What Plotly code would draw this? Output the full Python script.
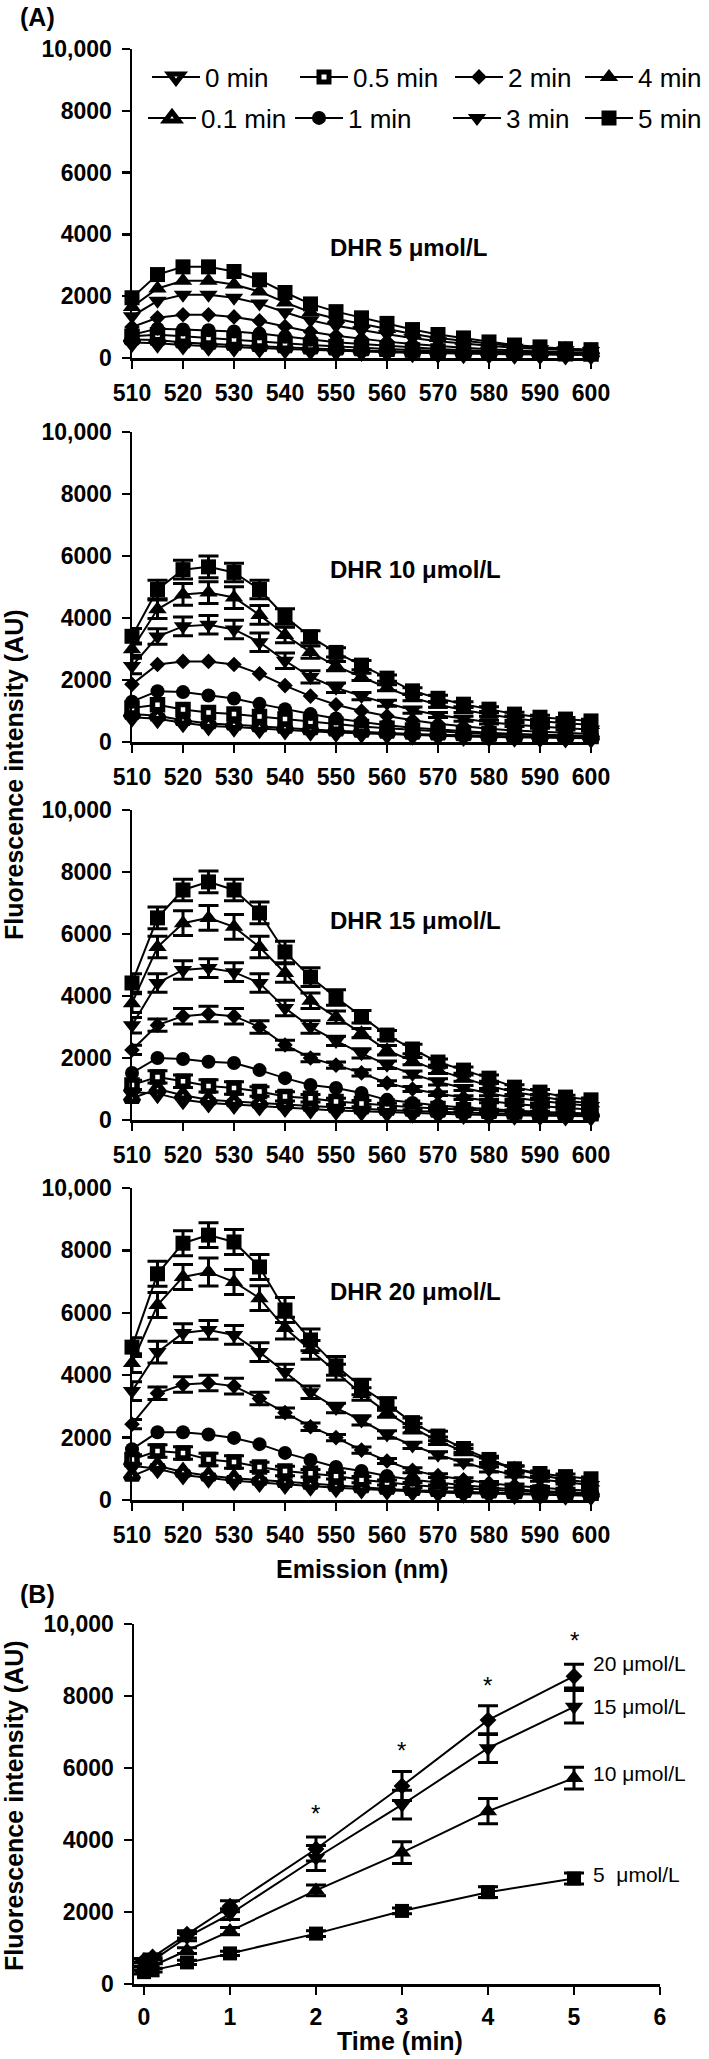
import plotly.graph_objects as go

W, H = 709, 2059
FONT = "Liberation Sans, Arial, Helvetica, sans-serif"

# ------------------------------------------------------------------ data
emission_nm = [510, 515, 520, 525, 530, 535, 540, 545, 550, 555, 560,
               565, 570, 575, 580, 585, 590, 595, 600]
time_labels = ["0 min", "0.1 min", "0.5 min", "1 min", "2 min", "3 min", "4 min", "5 min"]
y_tickvals = [0, 2000, 4000, 6000, 8000, 10000]
y_ticktext = ["0", "2000", "4000", "6000", "8000", "10,000"]
x_tickvals_A = [510, 520, 530, 540, 550, 560, 570, 580, 590, 600]
x_tickvals_B = [0, 1, 2, 3, 4, 5, 6]

# DHR 5 umol/L
dhr5_t0 = [500, 480, 420, 380, 350, 320, 290, 260, 230, 210, 190, 170, 150, 140, 130, 120, 110, 100, 100]
dhr5_t01 = [600, 580, 500, 450, 420, 380, 340, 300, 270, 240, 220, 200, 180, 160, 150, 140, 130, 120, 110]
dhr5_t05 = [700, 750, 700, 650, 600, 550, 480, 420, 370, 330, 290, 260, 230, 200, 180, 160, 150, 140, 130]
dhr5_t1 = [750, 950, 920, 900, 860, 790, 690, 590, 510, 450, 390, 340, 290, 250, 220, 190, 170, 150, 140]
dhr5_t2 = [1000, 1300, 1400, 1400, 1330, 1200, 1020, 850, 720, 620, 530, 450, 380, 330, 280, 240, 210, 190, 170]
dhr5_t3 = [1350, 1850, 2050, 2050, 1950, 1760, 1480, 1220, 1040, 900, 770, 650, 540, 470, 390, 330, 290, 250, 230]
dhr5_t4 = [1650, 2250, 2500, 2500, 2380, 2150, 1800, 1480, 1270, 1100, 940, 780, 650, 560, 460, 380, 330, 290, 260]
dhr5_t5 = [1950, 2700, 2950, 2950, 2800, 2530, 2120, 1750, 1500, 1300, 1120, 920, 760, 650, 520, 420, 360, 300, 270]

# DHR 10 umol/L
dhr10_t0 = [800, 750, 620, 520, 480, 430, 390, 350, 310, 280, 250, 220, 200, 180, 160, 150, 140, 130, 120]
dhr10_t01 = [900, 850, 700, 600, 560, 500, 450, 400, 360, 320, 290, 260, 230, 210, 190, 170, 160, 150, 140]
dhr10_t05 = [1100, 1200, 1050, 950, 900, 820, 740, 650, 570, 500, 440, 390, 340, 300, 270, 240, 210, 190, 180]
dhr10_t1 = [1300, 1640, 1610, 1500, 1400, 1230, 1060, 900, 760, 650, 540, 460, 400, 350, 300, 260, 230, 210, 190]
dhr10_t2 = [1860, 2500, 2600, 2600, 2500, 2200, 1820, 1480, 1200, 1000, 840, 700, 590, 500, 430, 370, 330, 290, 260]
dhr10_t3 = [2450, 3400, 3730, 3780, 3630, 3220, 2620, 2100, 1750, 1480, 1250, 1030, 870, 750, 640, 560, 490, 440, 400]
dhr10_t4 = [2990, 4280, 4760, 4820, 4660, 4100, 3450, 2900, 2450, 2100, 1750, 1430, 1200, 1030, 890, 760, 670, 600, 550]
dhr10_t5 = [3410, 4920, 5560, 5650, 5470, 4920, 4050, 3390, 2890, 2480, 2060, 1650, 1410, 1220, 1060, 900, 800, 740, 680]
dhr10_e3 = [250, 250, 300, 300, 300, 300, 250, 200, 150, 120, 100, 100, 80, 80, 60, 60, 50, 50, 50]
dhr10_e4 = [200, 300, 350, 350, 350, 300, 250, 200, 150, 120, 100, 100, 80, 80, 60, 60, 50, 50, 50]
dhr10_e5 = [250, 300, 300, 350, 300, 300, 250, 200, 150, 150, 100, 100, 100, 80, 80, 60, 60, 50, 50]

# DHR 15 umol/L
dhr15_t0 = [900, 850, 650, 550, 500, 450, 400, 350, 310, 280, 250, 220, 200, 180, 160, 150, 140, 130, 120]
dhr15_t01 = [700, 1000, 800, 650, 600, 560, 500, 450, 400, 360, 320, 290, 260, 240, 220, 200, 180, 170, 160]
dhr15_t05 = [1130, 1390, 1250, 1100, 1030, 920, 760, 700, 600, 530, 460, 410, 370, 330, 300, 270, 240, 220, 200]
dhr15_t1 = [1520, 2000, 1970, 1880, 1840, 1610, 1350, 1130, 1030, 870, 650, 550, 470, 400, 350, 300, 260, 230, 200]
dhr15_t2 = [2260, 3060, 3350, 3420, 3350, 3000, 2420, 2000, 1770, 1520, 1190, 1000, 850, 720, 610, 520, 450, 390, 340]
dhr15_t3 = [3060, 4420, 4840, 4900, 4770, 4420, 3610, 3000, 2550, 2150, 1780, 1480, 1230, 1030, 860, 720, 610, 520, 450]
dhr15_t4 = [3770, 5580, 6350, 6520, 6230, 5580, 4740, 3850, 3320, 2800, 2250, 1900, 1600, 1350, 1100, 900, 750, 620, 540]
dhr15_t5 = [4420, 6520, 7420, 7680, 7420, 6680, 5420, 4610, 3950, 3330, 2740, 2290, 1870, 1610, 1350, 1060, 900, 740, 650]
dhr15_e05 = [150, 200, 200, 200, 200, 150, 150, 120, 100, 100, 80, 80, 60, 60, 50, 50, 40, 40, 40]
dhr15_e2 = [150, 200, 250, 250, 250, 200, 150, 120, 100, 100, 80, 80, 60, 60, 50, 50, 40, 40, 40]
dhr15_e3 = [250, 300, 300, 300, 300, 300, 250, 200, 150, 150, 120, 100, 100, 80, 80, 60, 60, 50, 50]
dhr15_e4 = [300, 350, 400, 400, 400, 350, 300, 250, 200, 150, 150, 120, 100, 100, 80, 80, 60, 60, 50]
dhr15_e5 = [300, 350, 350, 350, 350, 350, 350, 300, 250, 200, 150, 150, 100, 100, 100, 80, 80, 60, 60]

# DHR 20 umol/L
dhr20_t0 = [1100, 1000, 800, 700, 620, 560, 500, 440, 390, 350, 310, 270, 240, 220, 200, 180, 160, 150, 140]
dhr20_t01 = [770, 1100, 900, 780, 700, 640, 570, 510, 450, 400, 350, 310, 280, 250, 230, 210, 190, 180, 170]
dhr20_t05 = [1300, 1570, 1510, 1300, 1220, 1060, 930, 860, 770, 650, 560, 480, 420, 370, 330, 290, 260, 240, 220]
dhr20_t1 = [1630, 2170, 2170, 2100, 1990, 1790, 1510, 1280, 1060, 930, 770, 650, 550, 470, 400, 340, 290, 250, 220]
dhr20_t2 = [2430, 3420, 3700, 3750, 3650, 3250, 2800, 2350, 2000, 1600, 1250, 950, 780, 650, 540, 460, 390, 340, 300]
dhr20_t3 = [3490, 4740, 5350, 5450, 5290, 4740, 4100, 3450, 2950, 2550, 2100, 1750, 1450, 1200, 980, 800, 660, 560, 480]
dhr20_t4 = [4390, 6250, 7150, 7310, 6990, 6470, 5510, 4810, 4100, 3400, 2800, 2300, 1900, 1550, 1250, 1000, 800, 650, 560]
dhr20_t5 = [4900, 7250, 8230, 8490, 8270, 7470, 6090, 5130, 4300, 3620, 3080, 2480, 2050, 1650, 1300, 1000, 850, 750, 680]
dhr20_e05 = [150, 200, 200, 200, 200, 150, 150, 120, 100, 100, 80, 80, 60, 60, 50, 50, 40, 40, 40]
dhr20_e2 = [150, 200, 250, 250, 250, 200, 150, 120, 100, 100, 80, 80, 60, 60, 50, 50, 40, 40, 40]
dhr20_e3 = [300, 350, 300, 300, 300, 300, 250, 200, 150, 150, 120, 100, 100, 80, 80, 60, 60, 50, 50]
dhr20_e4 = [300, 400, 400, 450, 400, 400, 350, 300, 250, 200, 150, 150, 120, 100, 100, 80, 80, 60, 60]
dhr20_e5 = [300, 400, 400, 400, 400, 400, 400, 350, 300, 250, 200, 150, 150, 120, 100, 100, 80, 80, 60]

# Panel B: intensity vs time
time_min = [0, 0.1, 0.5, 1, 2, 3, 4, 5]
conc_labels = ["5\u00a0\u00a0μmol/L", "10\u00a0μmol/L", "15\u00a0μmol/L", "20\u00a0μmol/L"]
b_5 = [330, 380, 600, 850, 1400, 2030, 2550, 2930]
b_5_err = [50, 50, 60, 60, 80, 80, 150, 150]
b_10 = [420, 500, 930, 1470, 2600, 3650, 4800, 5720]
b_10_err = [50, 60, 80, 100, 150, 300, 350, 300]
b_15 = [550, 650, 1300, 1940, 3500, 4980, 6550, 7700]
b_15_err = [60, 80, 100, 150, 350, 400, 400, 450]
b_20 = [650, 750, 1380, 2160, 3750, 5500, 7330, 8550]
b_20_err = [60, 80, 100, 150, 330, 400, 400, 330]
label_y_B = [3050, 5850, 7700, 8900]
star_x = [2, 3, 4, 5]
star_y = [4750, 6500, 8300, 9550]

# ------------------------------------------------------------------ styles
SYMBOLS = ["triangle-down", "triangle-up", "square", "circle", "diamond",
           "triangle-down", "triangle-up", "square"]
OPEN = [True, True, True, False, False, False, False, False]
SIZES = [12, 12, 10, 14, 12, 16, 16, 15]

panel_series = [
    [dhr5_t0, dhr5_t01, dhr5_t05, dhr5_t1, dhr5_t2, dhr5_t3, dhr5_t4, dhr5_t5],
    [dhr10_t0, dhr10_t01, dhr10_t05, dhr10_t1, dhr10_t2, dhr10_t3, dhr10_t4, dhr10_t5],
    [dhr15_t0, dhr15_t01, dhr15_t05, dhr15_t1, dhr15_t2, dhr15_t3, dhr15_t4, dhr15_t5],
    [dhr20_t0, dhr20_t01, dhr20_t05, dhr20_t1, dhr20_t2, dhr20_t3, dhr20_t4, dhr20_t5],
]
panel_errors = [
    [None] * 8,
    [None, None, None, None, None, dhr10_e3, dhr10_e4, dhr10_e5],
    [None, None, dhr15_e05, None, dhr15_e2, dhr15_e3, dhr15_e4, dhr15_e5],
    [None, None, dhr20_e05, None, dhr20_e2, dhr20_e3, dhr20_e4, dhr20_e5],
]
panel_titles = ["DHR 5 μmol/L", "DHR 10 μmol/L", "DHR 15 μmol/L", "DHR 20 μmol/L"]
panel_title_y = [3560, 5550, 6450, 6670]

# pixel geometry (top, bottom) of each panel's plot area
panel_px = [(49, 358), (432, 742), (810, 1120), (1188, 1500), (1624, 1984)]
A_x_px = (132, 591)
B_x_px = (134, 660)
B_x_range = [-0.116, 6]

legend_px = [(152, 77), (148, 118), (300, 77), (295, 118),
             (455, 77), (453, 118), (585, 77), (585, 118)]


def ydom(top, bot):
    return [1 - bot / H, 1 - top / H]


fig = go.Figure()

for p in range(4):
    ax = "" if p == 0 else str(p + 1)
    for i in range(8):
        marker = dict(symbol=SYMBOLS[i], size=SIZES[i],
                      color="white" if OPEN[i] else "black",
                      line=dict(color="black", width=5.5 if OPEN[i] else 0))
        err = panel_errors[p][i]
        tr = dict(
            x=emission_nm, y=panel_series[p][i], mode="lines+markers",
            name=time_labels[i], marker=marker,
            line=dict(color="black", width=2),
            xaxis="x" + ax, yaxis="y" + ax, cliponaxis=False,
            showlegend=(p == 0),
            hoverinfo="skip",
        )
        if err is not None:
            tr["error_y"] = dict(type="data", array=err, visible=True,
                                 color="black", thickness=3, width=10)
        if p == 0:
            tr["legend"] = "legend" if i == 0 else "legend%d" % (i + 1)
        fig.add_trace(go.Scatter(**tr))

b_series = [b_5, b_10, b_15, b_20]
b_errors = [b_5_err, b_10_err, b_15_err, b_20_err]
b_symbols = ["square", "triangle-up", "triangle-down", "diamond"]
b_sizes = [14, 16, 16, 13]
for k in range(4):
    fig.add_trace(go.Scatter(
        x=time_min, y=b_series[k], mode="lines+markers",
        name=conc_labels[k],
        marker=dict(symbol=b_symbols[k], size=b_sizes[k], color="black"),
        line=dict(color="black", width=2),
        error_y=dict(type="data", array=b_errors[k], visible=True,
                     color="black", thickness=3, width=10),
        xaxis="x5", yaxis="y5", cliponaxis=False, showlegend=False,
        hoverinfo="skip",
    ))

tickfont = dict(family=FONT, size=23, color="black", weight="bold")
common = dict(showline=True, linecolor="black", linewidth=2.5, ticks="outside",
              ticklen=8, tickwidth=2.5, tickcolor="black", showgrid=False,
              zeroline=False, tickfont=tickfont, fixedrange=True)

layout = dict(
    width=W, height=H, margin=dict(l=0, r=0, t=0, b=0, autoexpand=False),
    paper_bgcolor="white", plot_bgcolor="white",
    font=dict(family=FONT, color="black"),
)

for p in range(5):
    n = "" if p == 0 else str(p + 1)
    top, bot = panel_px[p]
    if p < 4:
        xd = [A_x_px[0] / W, A_x_px[1] / W]
        xr = [510, 600]
        xt = x_tickvals_A
        xstand = 5
    else:
        xd = [B_x_px[0] / W, B_x_px[1] / W]
        xr = B_x_range
        xt = x_tickvals_B
        xstand = 3
    layout["xaxis" + n] = dict(domain=xd, range=xr, tickvals=xt,
                               anchor="y" + n, ticklabelstandoff=xstand, **common)
    layout["yaxis" + n] = dict(domain=ydom(top, bot), range=[0, 10000],
                               tickvals=y_tickvals, ticktext=y_ticktext,
                               anchor="x" + n, ticklabelstandoff=5, **common)

for i in range(8):
    key = "legend" if i == 0 else "legend%d" % (i + 1)
    px, py = legend_px[i]
    layout[key] = dict(x=(px - 5) / W, y=1 - py / H, xanchor="left",
                       yanchor="middle", xref="paper", yref="paper",
                       font=dict(family=FONT, size=26, color="black"),
                       itemwidth=48, bgcolor="rgba(0,0,0,0)", borderwidth=0)

fig.update_layout(**layout)

ann = []
for p in range(4):
    n = "" if p == 0 else str(p + 1)
    ann.append(dict(text=panel_titles[p], x=328 / W, xref="paper", xanchor="left",
                    y=panel_title_y[p], yref="y" + n, yanchor="middle",
                    showarrow=False,
                    font=dict(family=FONT, size=24, color="black", weight="bold")))

bold25 = dict(family=FONT, size=25, color="black", weight="bold")
ann += [
    dict(text="(A)", x=18 / W, y=1 - 17 / H, xref="paper", yref="paper",
         xanchor="left", yanchor="middle", showarrow=False, font=bold25),
    dict(text="(B)", x=18 / W, y=1 - 1594 / H, xref="paper", yref="paper",
         xanchor="left", yanchor="middle", showarrow=False, font=bold25),
    dict(text="Fluorescence intensity (AU)", x=14 / W, y=1 - 775 / H,
         xref="paper", yref="paper", xanchor="center", yanchor="middle",
         textangle=-90, showarrow=False, font=bold25),
    dict(text="Fluorescence intensity (AU)", x=14 / W, y=1 - 1806 / H,
         xref="paper", yref="paper", xanchor="center", yanchor="middle",
         textangle=-90, showarrow=False, font=bold25),
    dict(text="Emission (nm)", x=362 / W, y=1 - 1569 / H, xref="paper",
         yref="paper", xanchor="center", yanchor="middle", showarrow=False,
         font=bold25),
    dict(text="Time (min)", x=400 / W, y=1 - 2041 / H, xref="paper",
         yref="paper", xanchor="center", yanchor="middle", showarrow=False,
         font=bold25),
]
for k in range(4):
    ann.append(dict(text=conc_labels[k], x=5.2, y=label_y_B[k], xref="x5",
                    yref="y5", xanchor="left", yanchor="middle", showarrow=False,
                    font=dict(family=FONT, size=21, color="black")))
for k in range(4):
    ann.append(dict(text="*", x=star_x[k], y=star_y[k], xref="x5", yref="y5",
                    xanchor="center", yanchor="middle", showarrow=False,
                    font=dict(family=FONT, size=24, color="black")))

fig.update_layout(annotations=ann)
fig.write_html("out.html", config={"displayModeBar": False, "staticPlot": True},
               post_script="document.body.style.margin='0';")
